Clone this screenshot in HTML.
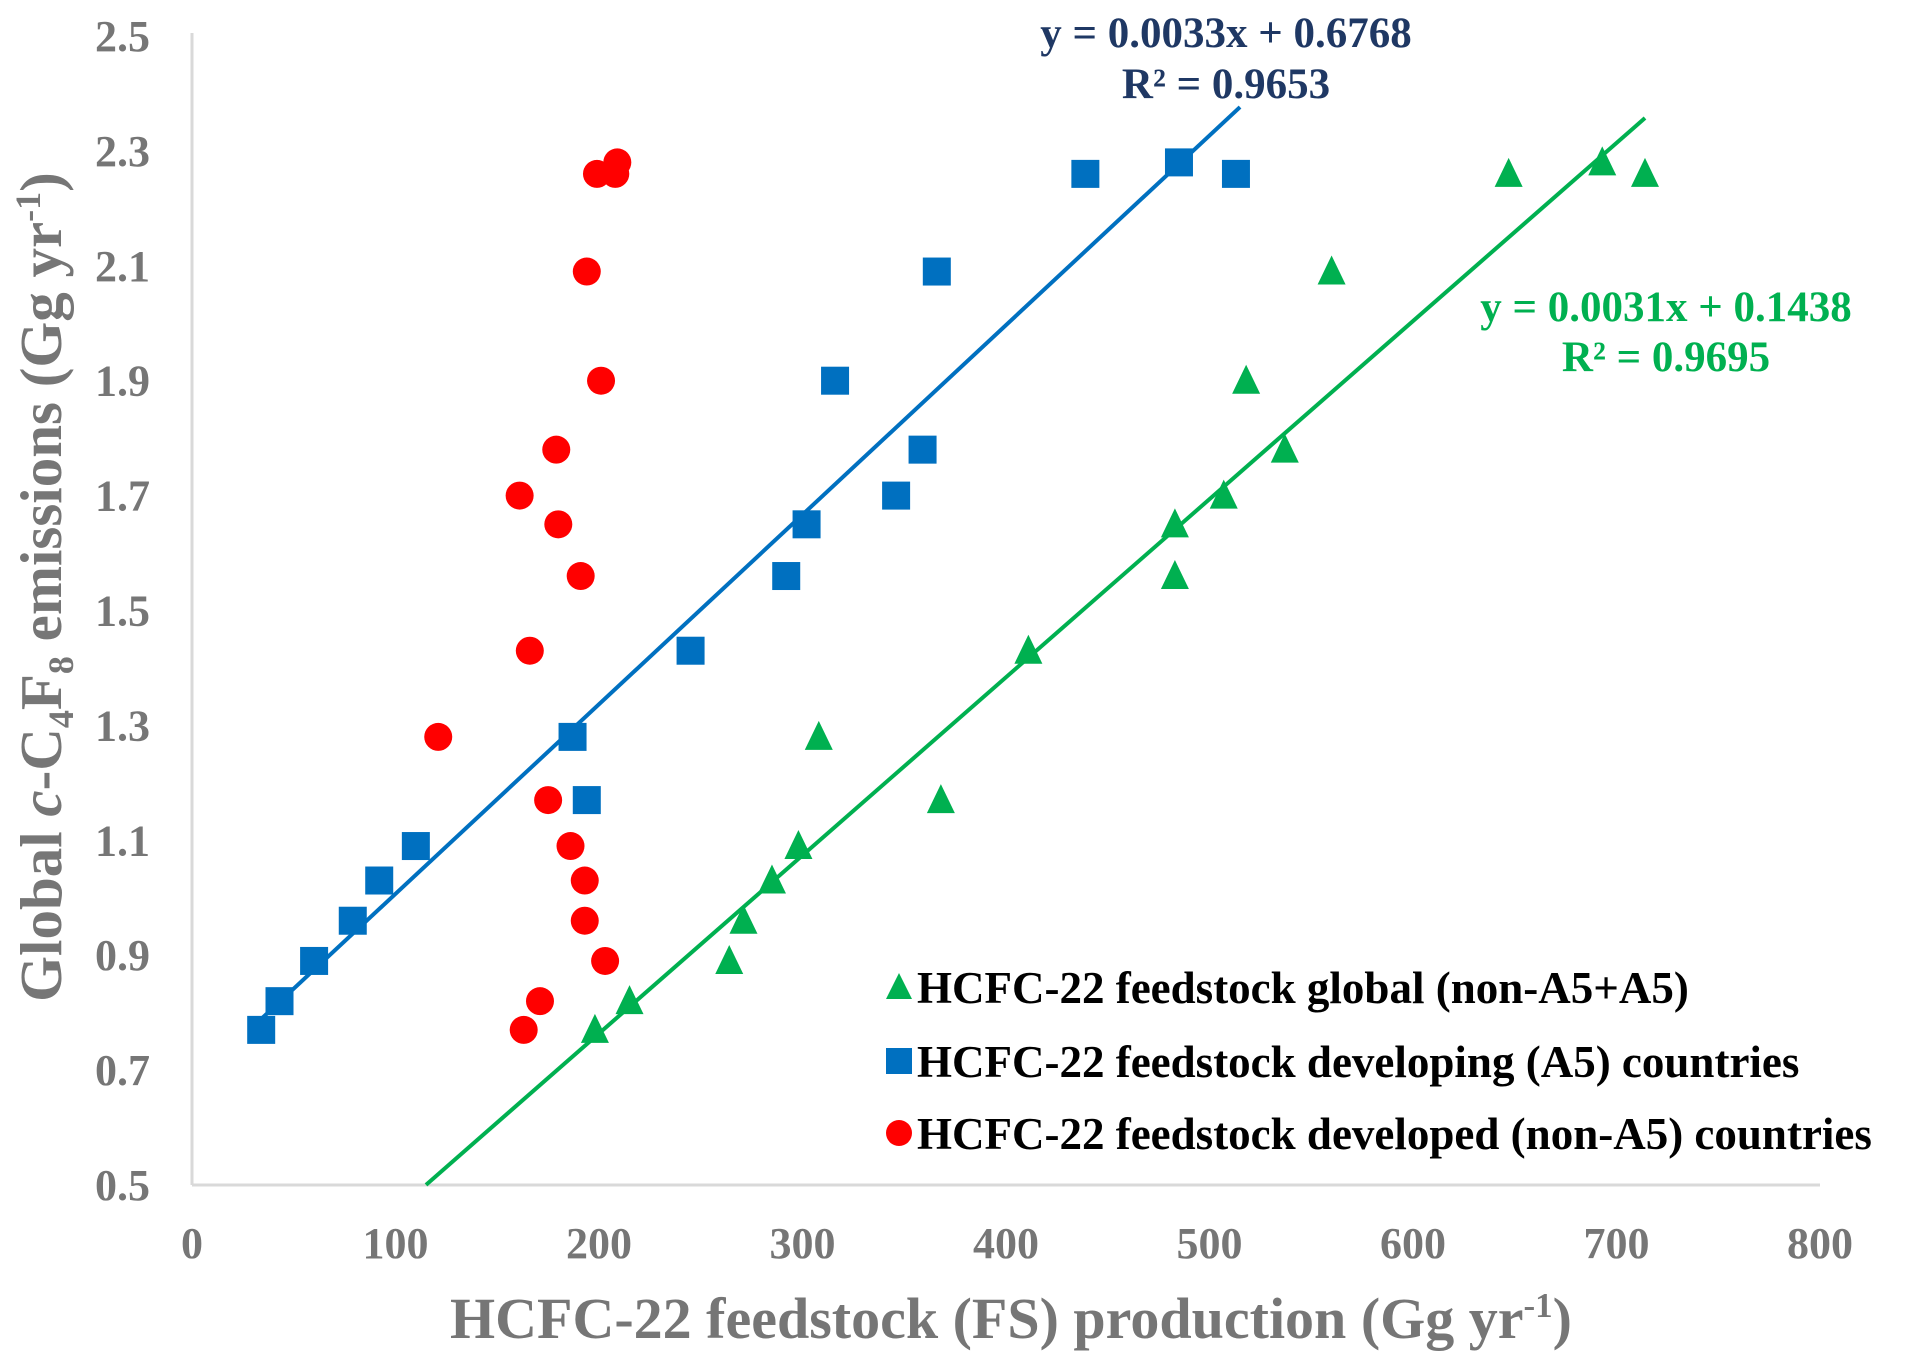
<!DOCTYPE html>
<html><head><meta charset="utf-8"><style>
html,body{margin:0;padding:0;background:#fff;}
svg{display:block;font-family:"Liberation Serif",serif;font-weight:bold;}
</style></head><body>
<svg id="chart" width="1907" height="1369" viewBox="0 0 1907 1369">
<g id="axes"></g><g id="marks"></g>
<text x="1226" y="47" text-anchor="middle" font-size="43" fill="#1F3864">y = 0.0033x + 0.6768</text>
<text x="1226" y="98" text-anchor="middle" font-size="43" fill="#1F3864">R² = 0.9653</text>
<text x="1666" y="321" text-anchor="middle" font-size="43" fill="#00B050">y = 0.0031x + 0.1438</text>
<text x="1666" y="371" text-anchor="middle" font-size="43" fill="#00B050">R² = 0.9695</text>
<text x="1011" y="1338" text-anchor="middle" font-size="58" fill="#767676">HCFC-22 feedstock (FS) production (Gg yr<tspan dy="-21" font-size="35">-1</tspan><tspan dy="21">)</tspan></text>
<text transform="translate(61,587) rotate(-90)" text-anchor="middle" font-size="59" fill="#767676">Global <tspan font-style="italic">c</tspan>-C<tspan dy="12" font-size="36">4</tspan><tspan dy="-12">F</tspan><tspan dy="12" font-size="36">8</tspan><tspan dy="-12"> emissions (Gg yr</tspan><tspan dy="-21" font-size="36">-1</tspan><tspan dy="21">)</tspan></text>
<g>
<polygon points="899,973 886,999 912,999" fill="#00B050"/>
<text x="917" y="1003" font-size="45" fill="#000">HCFC-22 feedstock global (non-A5+A5)</text>
<rect x="886" y="1048" width="26" height="26" fill="#0070C0"/>
<text x="917" y="1077" font-size="45" fill="#000">HCFC-22 feedstock developing (A5) countries</text>
<circle cx="899" cy="1133" r="13" fill="#FF0000"/>
<text x="917" y="1149" font-size="45" fill="#000">HCFC-22 feedstock developed (non-A5) countries</text>
</g>
</svg>
<script>
const emissions=[0.77,0.82,0.89,0.96,1.03,1.09,1.17,1.28,1.43,1.56,1.65,1.70,1.78,1.90,2.09,2.26,2.28,2.26];
const developedFS=[163,171,203,193,193,186,175,121,166,191,180,161,179,201,194,199,209,208];
const developingFS=[34,43,60,79,92,110,194,187,245,292,302,346,359,316,366,439,485,513];
const globalFS=[198,215,264,271,285,298,368,308,411,483,483,507,537,518,560,647,693,714];
const xTicks=[0,100,200,300,400,500,600,700,800];
const yTicks=["0.5","0.7","0.9","1.1","1.3","1.5","1.7","1.9","2.1","2.3","2.5"];
const blueTrend=[0.0033,0.6768,30,515];
const greenTrend=[0.0031,0.1438,115,714];
const NS="http://www.w3.org/2000/svg";
const L=192,R=1820,T=36,B=1185;
const sx=v=>L+(v-0)/800*(R-L);
const sy=v=>B-(v-0.5)/2*(B-T);
function mk(tag,attrs,parent){const e=document.createElementNS(NS,tag);for(const k in attrs)e.setAttribute(k,attrs[k]);parent.appendChild(e);return e;}
const ax=document.getElementById('axes'),mg=document.getElementById('marks');
let e=mk('line',{x1:L,y1:T-3,x2:L,y2:B,stroke:'#d9d9d9','stroke-width':3},ax);


e=mk('line',{x1:L,y1:B,x2:R,y2:B,stroke:'#d9d9d9','stroke-width':3},ax);


xTicks.forEach(t=>{const el=mk('text',{x:sx(t),y:1258,'text-anchor':'middle','font-size':44,fill:'#767676'},ax);el.textContent=t;

});
yTicks.forEach(t=>{const el=mk('text',{x:150,y:sy(parseFloat(t))+15,'text-anchor':'end','font-size':44,fill:'#767676'},ax);el.textContent=t;

});
function trend(tr,col,name){const [m,b,x0,x1]=tr;let X0=Math.max(x0,(0.5-b)/m);const el=mk('line',{x1:sx(X0),y1:sy(m*X0+b),x2:sx(x1),y2:sy(m*x1+b),stroke:col,'stroke-width':4},mg);

}
trend(blueTrend,'#0070C0','developing-trendline');
trend(greenTrend,'#00B050','global-trendline');
developedFS.forEach((x,i)=>{const el=mk('circle',{cx:sx(x),cy:sy(emissions[i]),r:14,fill:'#FF0000'},mg);

});
developingFS.forEach((x,i)=>{const el=mk('rect',{x:sx(x)-14,y:sy(emissions[i])-14,width:28,height:28,fill:'#0070C0'},mg);

});
globalFS.forEach((x,i)=>{const cx=sx(x),cy=sy(emissions[i]);const el=mk('polygon',{points:`${cx},${cy-16} ${cx-14},${cy+13} ${cx+14},${cy+13}`,fill:'#00B050'},mg);

});
</script>
</body></html>
